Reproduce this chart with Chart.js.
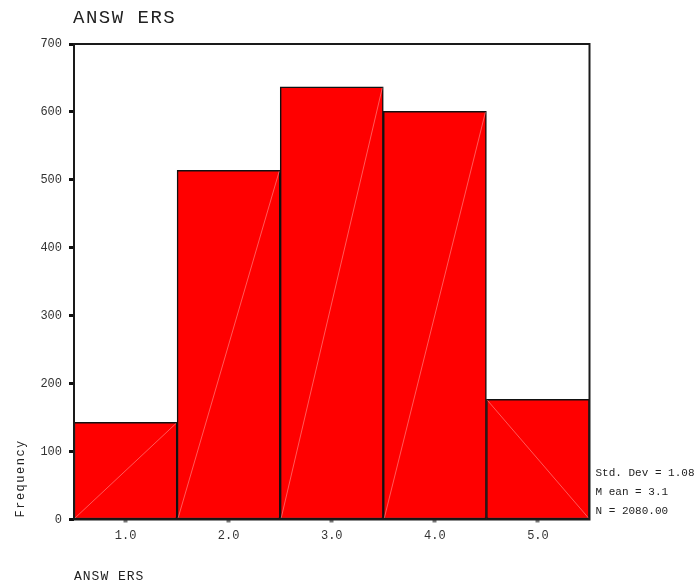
<!DOCTYPE html>
<html>
<head>
<meta charset="utf-8">
<title>ANSWERS</title>
<script src="https://cdn.jsdelivr.net/npm/chart.js@4.4.1/dist/chart.umd.min.js"></script>
<style>
  html, body { margin: 0; padding: 0; background: #fff; }
  #wrap { width: 694px; height: 582px; position: relative; }
</style>
</head>
<body>
<div id="wrap"><canvas id="hist"></canvas></div>
<script>
// histogram data
const categories = ['1.0', '2.0', '3.0', '4.0', '5.0'];
const frequencies = [143, 514, 637, 601, 177];
const yTicks = [0, 100, 200, 300, 400, 500, 600, 700];
const statLines = ['Std. Dev = 1.08', 'M ean = 3.1', 'N = 2080.00'];
const chartTitle = 'ANSW ERS';
const xTitle = 'ANSW ERS';
const yTitle = 'Frequency';

// direction of the faint fill seam inside each bar (1 = rising, -1 = falling)
const seamDir = [1, 1, 1, 1, -1];

const MONO = '"Liberation Mono", "DejaVu Sans Mono", monospace';

// frame, seams and free text
const decorations = {
  id: 'decorations',
  afterDatasetsDraw(chart) {
    const ctx = chart.ctx;
    const meta = chart.getDatasetMeta(0);
    ctx.save();
    ctx.strokeStyle = 'rgba(255,175,175,0.85)';
    ctx.lineWidth = 0.6;
    meta.data.forEach((bar, i) => {
      const l = bar.x - bar.width / 2 + 1, r = bar.x + bar.width / 2 - 1;
      ctx.beginPath();
      if (seamDir[i] > 0) {
        ctx.moveTo(l, bar.base - 1); ctx.lineTo(r, bar.y + 1);
      } else {
        ctx.moveTo(l, bar.y + 1); ctx.lineTo(r, bar.base - 1);
      }
      ctx.stroke();
    });
    ctx.restore();
  },
  afterDraw(chart) {
    const ctx = chart.ctx;
    const a = chart.chartArea;
    ctx.save();
    ctx.strokeStyle = '#1a1a1a';
    ctx.lineWidth = 2;
    ctx.strokeRect(a.left, a.top, a.right - a.left, a.bottom - a.top);

    ctx.fillStyle = '#222';
    ctx.textAlign = 'left';
    ctx.textBaseline = 'alphabetic';

    ctx.font = '19px ' + MONO;
    ctx.letterSpacing = '1.5px';
    ctx.fillText(chartTitle, a.left - 1, 23);

    ctx.font = '13px ' + MONO;
    ctx.letterSpacing = '1px';
    ctx.fillText(xTitle, a.left, 580);

    ctx.font = '11px ' + MONO;
    ctx.letterSpacing = '0px';
    statLines.forEach((s, i) => ctx.fillText(s, a.right + 6, 476 + i * 19));

    ctx.translate(24, a.bottom - 2);
    ctx.rotate(-Math.PI / 2);
    ctx.font = '12px ' + MONO;
    ctx.letterSpacing = '1.5px';
    ctx.fillText(yTitle, 0, 0);
    ctx.restore();
  }
};

new Chart(document.getElementById('hist'), {
  type: 'bar',
  data: {
    labels: categories,
    datasets: [{
      data: frequencies,
      backgroundColor: '#ff0000',
      borderColor: '#111',
      borderWidth: 1.5,
      borderSkipped: false,
      barPercentage: 1,
      categoryPercentage: 1
    }]
  },
  options: {
    responsive: true,
    maintainAspectRatio: false,
    animation: false,
    layout: { padding: { top: 44, right: 104.5, bottom: 0, left: 0 } },
    plugins: {
      legend: { display: false },
      tooltip: { enabled: false },
      title: { display: false }
    },
    scales: {
      x: {
        offset: true,
        border: { display: false },
        grid: {
          drawOnChartArea: false,
          offset: false,
          tickLength: 3,
          tickWidth: 4,
          tickColor: '#777'
        },
        ticks: {
          color: '#333',
          font: { family: MONO, size: 12 },
          padding: 6,
          maxRotation: 0
        },
        afterFit(scale) { scale.height = 62.5; }
      },
      y: {
        min: yTicks[0],
        max: yTicks[yTicks.length - 1],
        border: { display: false },
        grid: {
          drawOnChartArea: false,
          tickLength: 5,
          tickWidth: 3,
          tickColor: '#111'
        },
        ticks: {
          stepSize: yTicks[1] - yTicks[0],
          color: '#333',
          font: { family: MONO, size: 12 },
          padding: 7
        },
        afterFit(scale) { scale.width = 74; }
      }
    }
  },
  plugins: [decorations]
});
</script>
</body>
</html>
